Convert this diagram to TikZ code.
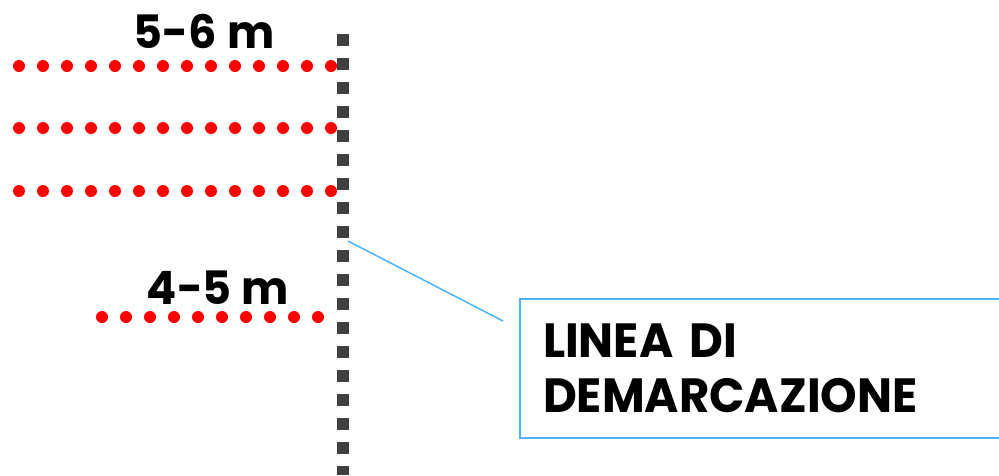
\documentclass[tikz,border=0pt]{standalone}
\usepackage{fontspec}
\setmainfont{Poppins}[BoldFont={* Bold},FakeStretch=0.97]
\usetikzlibrary{positioning}
\definecolor{segno}{HTML}{404040}
\definecolor{celeste}{HTML}{4DB3FF}
\begin{document}
\begin{tikzpicture}[x=1pt,y=-1pt,thick]
\tikzstyle{every node}=[font=\bfseries\fontsize{48}{55}\selectfont]
\tikzstyle{pallino}=[fill=red,draw=none]
\tikzstyle{misura}=[inner sep=0pt,font=\bfseries\fontsize{46}{50}\selectfont]
\useasboundingbox (0,0) rectangle (999,475);
\clip (0,0) rectangle (999,475);
% linea tratteggiata
\draw[segno,line width=12pt,dash pattern=on 12pt off 12pt] (343,34) -- (343,475);
% file di pallini
\foreach \y in {66,128,191}
  \foreach \i in {0,...,13}
    \path[pallino] (19+24*\i,\y) circle (6);
\foreach \i in {0,...,9}
  \path[pallino] (102+24*\i,317) circle (6);
\path node[misura] (d1) at (204,31) {5-6\hspace{10pt}m};
\path node[misura] (d2) at (218,288) {4-5\hspace{10pt}m};
% riquadro
\path node[draw=celeste,line width=2pt,anchor=north west,minimum width=600,minimum height=139,
  text width=554,align=left,inner xsep=23,inner ysep=0pt] (lin) at (519,298) {LINEA DI\\DEMARCAZIONE};
\coordinate (a) at (348,241);
\coordinate (b) at (503,321);
\draw[celeste,line width=1.5pt] (a) -- (b);
\end{tikzpicture}
\end{document}
